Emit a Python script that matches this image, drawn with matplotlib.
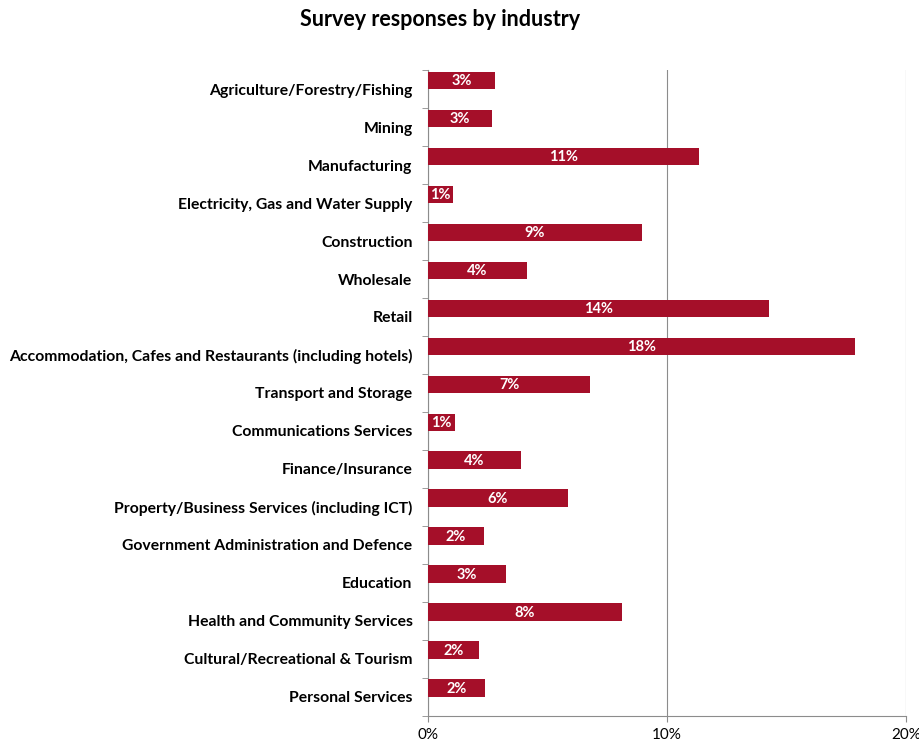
import matplotlib.pyplot as plt
import numpy as np
from matplotlib.ticker import FixedLocator, PercentFormatter

plt.rcParams['font.family'] = ['Lato', 'DejaVu Sans']

industries = [
    'Agriculture/Forestry/Fishing',
    'Mining',
    'Manufacturing',
    'Electricity, Gas and Water Supply',
    'Construction',
    'Wholesale',
    'Retail',
    'Accommodation, Cafes and Restaurants (including hotels)',
    'Transport and Storage',
    'Communications Services',
    'Finance/Insurance',
    'Property/Business Services (including ICT)',
    'Government Administration and Defence',
    'Education',
    'Health and Community Services',
    'Cultural/Recreational & Tourism',
    'Personal Services',
]
share = [2.82, 2.68, 11.33, 1.04, 8.96, 4.15, 14.27, 17.84, 6.8, 1.12,
         3.9, 5.85, 2.37, 3.28, 8.13, 2.16, 2.41]

bar_color = '#A50F29'
axis_color = '#8c8c8c'

fig = plt.figure(figsize=(9.2, 7.45), dpi=100)
ax = fig.add_axes([0.465, 0.039, 0.52, 0.867])

ypos = np.arange(len(industries))
# bars sit in the upper half of each category band
bar_y = ypos - 0.23
ax.barh(bar_y, share, height=0.46, color=bar_color, zorder=3)

for y, v in zip(bar_y, share):
    ax.text(v / 2, y + 0.02, f'{v:.0f}%', ha='center', va='center',
            color='white', fontsize=10.5, fontweight='bold', zorder=4)

ax.set_xlim(0, 20)
ax.set_ylim(len(industries) - 0.5, -0.5)
ax.set_xticks([0, 10, 20])
ax.xaxis.set_major_formatter(PercentFormatter(decimals=0))
ax.set_yticks(ypos)
ax.set_yticklabels(industries, fontsize=11.3, fontweight='bold')
ax.tick_params(axis='y', which='major', length=0, pad=11)
ax.yaxis.set_minor_locator(FixedLocator(np.arange(-0.5, len(industries), 1)))
ax.tick_params(axis='y', which='minor', length=4, color=axis_color)
ax.tick_params(axis='x', length=4, color=axis_color, labelsize=11, pad=5)

ax.grid(axis='x', color=axis_color, linewidth=0.8, zorder=0)
for side in ['top', 'right']:
    ax.spines[side].set_visible(False)
for side in ['left', 'bottom']:
    ax.spines[side].set_color(axis_color)
    ax.spines[side].set_linewidth(0.8)

fig.suptitle('Survey responses by industry', x=0.478, y=0.988,
             fontsize=15.5, fontweight='bold')

fig.savefig('out.png', dpi=100)
